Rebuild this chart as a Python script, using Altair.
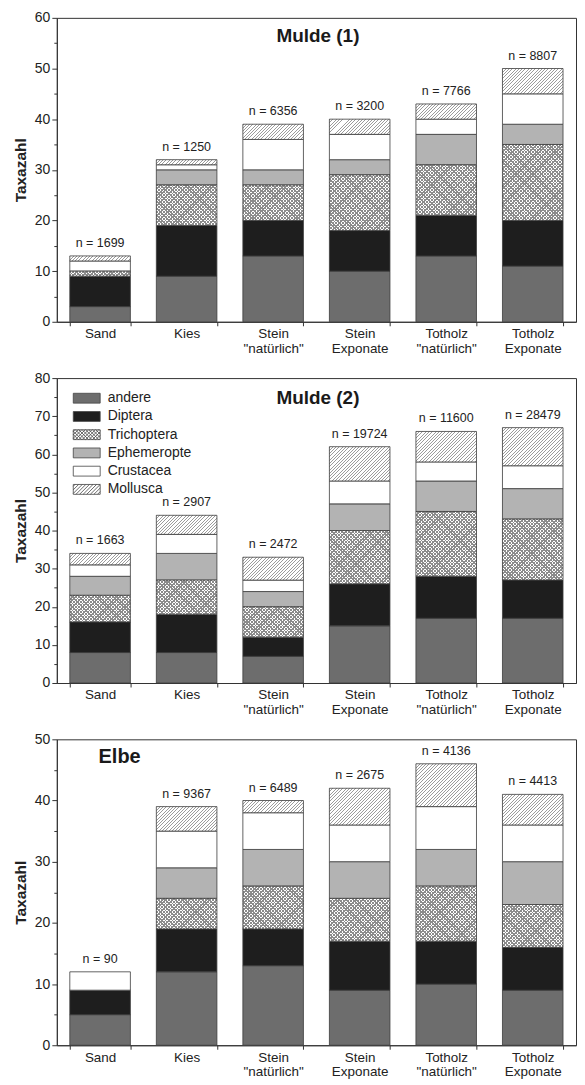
import math
import altair as alt
import pandas as pd

FONT = "Liberation Sans"

habitats = ["Sand", "Kies", 'Stein|"natürlich"', "Stein|Exponate",
            'Totholz|"natürlich"', "Totholz|Exponate"]
categories = ["andere", "Diptera", "Trichoptera", "Ephemeropte", "Crustacea", "Mollusca"]

# taxa per group and habitat
mulde1 = {
    "andere":      [3, 9, 13, 10, 13, 11],
    "Diptera":     [6, 10, 7, 8, 8, 9],
    "Trichoptera": [1, 8, 7, 11, 10, 15],
    "Ephemeropte": [0, 3, 3, 3, 6, 4],
    "Crustacea":   [2, 1, 6, 5, 3, 6],
    "Mollusca":    [1, 1, 3, 3, 3, 5],
}
mulde1_n = [1699, 1250, 6356, 3200, 7766, 8807]

mulde2 = {
    "andere":      [8, 8, 7, 15, 17, 17],
    "Diptera":     [8, 10, 5, 11, 11, 10],
    "Trichoptera": [7, 9, 8, 14, 17, 16],
    "Ephemeropte": [5, 7, 4, 7, 8, 8],
    "Crustacea":   [3, 5, 3, 6, 5, 6],
    "Mollusca":    [3, 5, 6, 9, 8, 10],
}
mulde2_n = [1663, 2907, 2472, 19724, 11600, 28479]

elbe = {
    "andere":      [5, 12, 13, 9, 10, 9],
    "Diptera":     [4, 7, 6, 8, 7, 7],
    "Trichoptera": [0, 5, 7, 7, 9, 7],
    "Ephemeropte": [0, 5, 6, 6, 6, 7],
    "Crustacea":   [3, 6, 6, 6, 7, 6],
    "Mollusca":    [0, 4, 2, 6, 7, 5],
}
elbe_n = [90, 9367, 6489, 2675, 4136, 4413]

# ---------------- styling / layout ----------------
PLOT_W = 521
PAD_IN, PAD_OUT = 0.3, 0.15
BAR_W = PLOT_W / (len(habitats) - PAD_IN + 2 * PAD_OUT) * (1 - PAD_IN)
EDGE = "#3c3c3c"
solid_colors = {"andere": "#6d6d6d", "Diptera": "#1e1e1e", "Trichoptera": "#ffffff",
                "Ephemeropte": "#b3b3b3", "Crustacea": "#ffffff", "Mollusca": "#ffffff"}
color_scale = alt.Scale(domain=categories, range=[solid_colors[c] for c in categories])


def stripe_gradient(direction, pxu, L, period, lw, bg, fg):
    n = int(math.ceil(L / period))
    stops = []
    for k in range(n):
        a = k * period / L
        b = min((k * period + lw) / L, 1.0)
        c = min((k + 1) * period / L, 1.0)
        stops += [(a, fg), (b, fg), (b, bg), (c, bg)]
    st = "[" + ",".join("{offset:%.4f,color:'%s'}" % (o, col) for o, col in stops) + "]"
    H = "(datum.v*%.4f)" % pxu
    D = "(%.3f+%s*%s)" % (BAR_W * BAR_W, H, H)
    A = "%.3f*%.3f/%s" % (L, BAR_W, D)
    B = "%.3f*%s/%s" % (L, H, D)
    if direction == "/":
        return "{gradient:'linear',x1:0,y1:0,x2:%s,y2:%s,stops:%s}" % (A, B, st)
    return "{gradient:'linear',x1:0,y1:1,x2:%s,y2:1-%s,stops:%s}" % (A, B, st)


def rect_path(hw=1.5, hh=0.55):
    return f"M{-hw},{-hh}H{hw}V{hh}H{-hw}Z"


def hatch_lines(direction, spacing, hw=1.5, hh=0.55):
    parts = []
    c = -(hw + hh) + spacing / 2
    while c < hw + hh:
        if direction == "/":
            y0, y1 = max(-hh, c - hw), min(hh, c + hw)
            if y1 - y0 > 1e-3:
                parts.append("M%.3f,%.3fL%.3f,%.3f" % (c - y0, y0, c - y1, y1))
        else:
            y0, y1 = max(-hh, -hw - c), min(hh, hw - c)
            if y1 - y0 > 1e-3:
                parts.append("M%.3f,%.3fL%.3f,%.3f" % (c + y0, y0, c + y1, y1))
        c += spacing
    return "".join(parts)


shape_paths = {
    "andere": rect_path(), "Diptera": rect_path(),
    "Trichoptera": rect_path() + hatch_lines("/", 0.38) + hatch_lines("\\", 0.38),
    "Ephemeropte": rect_path(), "Crustacea": rect_path(),
    "Mollusca": rect_path() + hatch_lines("/", 0.4),
}
shape_scale = alt.Scale(domain=categories, range=[shape_paths[c] for c in categories])


def make_panel(vals, ns, ymax, height, title, tx, ty, tsize, with_legend=False):
    rows = []
    for i, hab in enumerate(habitats):
        for j, cat in enumerate(categories):
            rows.append({"habitat": hab, "category": cat, "order": j, "v": vals[cat][i]})
    df = pd.DataFrame(rows)
    tot = pd.DataFrame({
        "habitat": habitats,
        "total": [sum(vals[c][i] for c in categories) for i in range(len(habitats))],
        "label": [f"n = {n}" for n in ns],
    })
    pxu = height / ymax
    L_tri = BAR_W + max(vals["Trichoptera"]) * pxu + 3
    L_mol = BAR_W + max(vals["Mollusca"]) * pxu + 3

    xenc = alt.X("habitat:N", sort=habitats, title=None,
                 scale=alt.Scale(paddingInner=PAD_IN, paddingOuter=PAD_OUT),
                 axis=alt.Axis(labelExpr="split(datum.label, '|')", labelAngle=0,
                               tickBand="extent", tickSize=4, labelPadding=1,
                               labelFontSize=13.5, labelLineHeight=14.5))
    yscale = alt.Scale(domain=[0, ymax], nice=False)
    yaxis = alt.Axis(values=list(range(0, ymax + 1, 10)), title="Taxazahl", tickSize=5,
                     labelPadding=2, labelFontSize=14, titleFontSize=15.5, orient="left",
                     titleFontWeight="bold", titlePadding=6, grid=False)
    minor_axis = alt.Axis(values=list(range(5, ymax, 10)), labels=False, domain=False,
                          tickSize=3, title=None, orient="left", grid=False)
    yenc = alt.Y("lo:Q", scale=yscale, axis=yaxis)
    yenc_noaxis = alt.Y("lo:Q", scale=yscale, axis=None)

    base = alt.Chart(df).transform_stack(
        stack="v", groupby=["habitat"], sort=[alt.SortField("order", "ascending")],
        as_=["lo", "hi"]).transform_filter("datum.v > 0")

    leg = None
    if with_legend:
        leg = alt.Legend(title=None, orient="none", legendX=20.5, legendY=10.7,
                         symbolSize=324, labelFont=FONT, labelFontSize=14,
                         labelColor="#222", labelOffset=11.5, rowPadding=1.3,
                         padding=0, symbolStrokeColor="#444", symbolStrokeWidth=0.8)

    solid = base.transform_filter(
        "indexof(['andere','Diptera','Ephemeropte','Crustacea'], datum.category) >= 0"
    ).mark_bar(stroke=EDGE, strokeWidth=0.8).encode(
        x=xenc, y=yenc, y2="hi:Q",
        color=alt.Color("category:N", scale=color_scale, legend=leg))

    tri = base.transform_filter("datum.category == 'Trichoptera'")
    tri1 = tri.mark_bar(
        fill=alt.ExprRef(stripe_gradient("/", pxu, L_tri, 3.4, 1.5, "#ffffff", "#8c8c8c")),
        strokeWidth=0).encode(x=xenc, y=yenc_noaxis, y2="hi:Q")
    tri2 = tri.mark_bar(
        fill=alt.ExprRef(stripe_gradient("\\", pxu, L_tri, 3.4, 1.5, "rgba(255,255,255,0)", "#8c8c8c")),
        stroke=EDGE, strokeWidth=0.8).encode(x=xenc, y=yenc_noaxis, y2="hi:Q")
    mol = base.transform_filter("datum.category == 'Mollusca'").mark_bar(
        fill=alt.ExprRef(stripe_gradient("/", pxu, L_mol, 3.3, 1.0, "#ffffff", "#9c9c9c")),
        stroke=EDGE, strokeWidth=0.8).encode(x=xenc, y=yenc_noaxis, y2="hi:Q")

    nlab = alt.Chart(tot).mark_text(baseline="bottom", dy=-6, fontSize=12.5, font=FONT,
                                    color="#222").encode(
        x=xenc,
        y=alt.Y("total:Q", scale=yscale, axis=minor_axis),
        text="label:N")

    ttl = alt.Chart(pd.DataFrame({"t": [title]})).mark_text(
        fontSize=tsize, fontWeight="bold", font=FONT, color="#1a1a1a",
        align="center", baseline="middle").encode(
        text="t:N", x=alt.value(tx), y=alt.value(ty))

    layers = [solid, tri1, tri2, mol, nlab, ttl]
    if with_legend:
        lg = alt.Chart(df).transform_filter("false").mark_point(filled=True, opacity=1).encode(
            color=alt.Color("category:N", scale=color_scale, legend=leg),
            shape=alt.Shape("category:N", scale=shape_scale, legend=leg))
        layers.append(lg)
    return alt.layer(*layers).resolve_axis(y="independent").properties(
        width=PLOT_W, height=height)


p1 = make_panel(mulde1, mulde1_n, 60, 305, "Mulde (1)", 262, 18, 19)
p2 = make_panel(mulde2, mulde2_n, 80, 306, "Mulde (2)", 262, 20, 19, with_legend=True)
p3 = make_panel(elbe, elbe_n, 50, 307, "Elbe", 63, 18, 20)

chart = alt.vconcat(p1, p2, p3, spacing=14.5).resolve_scale(
    color="independent", shape="independent"
).properties(
    padding={"left": 4, "top": 0, "right": 0, "bottom": 0}
).configure_view(
    stroke="#333", strokeWidth=1
).configure_axis(
    labelFont=FONT, titleFont=FONT, labelColor="#222", titleColor="#222",
    domainColor="#333", tickColor="#333"
)

chart.save("out.html", embed_options={"renderer": "svg", "actions": False})
